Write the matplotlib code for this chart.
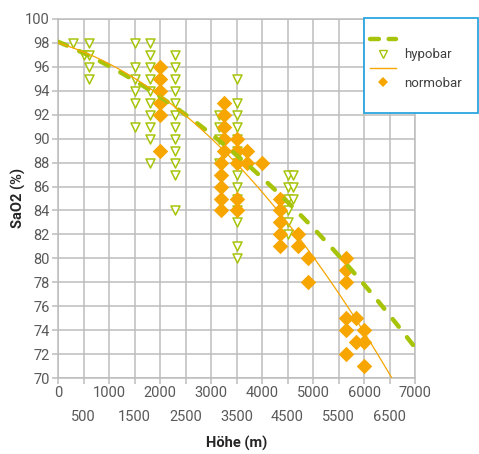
import numpy as np
import matplotlib.pyplot as plt
from matplotlib.lines import Line2D
from matplotlib.patches import Rectangle

plt.rcParams['font.family'] = ['Roboto', 'DejaVu Sans']

# hypobar measurements (altitude in m, SaO2 in %)
hypo_alt = [300, 500,
            600, 600, 600, 600,
            1500, 1500, 1500, 1500, 1500, 1500,
            1800, 1800, 1800, 1800, 1800, 1800, 1800, 1800, 1800, 1800,
            2300, 2300, 2300, 2300, 2300, 2300, 2300, 2300, 2300, 2300, 2300, 2300,
            3150, 3150, 3150, 3150,
            3500, 3500, 3500, 3500, 3500, 3500, 3500, 3500, 3500, 3500, 3500, 3500, 3500, 3500,
            4500, 4500, 4500, 4500, 4500, 4500,
            4600, 4600, 4600]
hypo_sao2 = [98, 97,
             98, 97, 96, 95,
             98, 96, 95, 94, 93, 91,
             98, 97, 96, 95, 94, 93, 92, 91, 90, 88,
             97, 96, 95, 94, 93, 92, 91, 90, 89, 88, 87, 84,
             92, 91, 90, 88,
             95, 93, 92, 91, 90, 89, 88, 87, 86, 85, 84, 83, 81, 80,
             87, 86, 85, 84, 83, 82,
             87, 86, 85]

# normobar measurements
norm_alt = [2000, 2000, 2000, 2000, 2000, 2000,
            3250, 3250, 3250, 3250, 3250,
            3200, 3200, 3200, 3200, 3200,
            3500, 3500, 3500, 3500, 3500,
            3700, 3700, 4000,
            4350, 4350, 4350, 4350, 4350,
            4700, 4700, 4900, 4900,
            5650, 5650, 5650, 5650, 5650, 5650,
            5850, 5850,
            6000, 6000, 6000]
norm_sao2 = [96, 95, 94, 93, 92, 89,
             93, 92, 91, 90, 89,
             88, 87, 86, 85, 84,
             90, 89, 88, 85, 84,
             89, 88, 88,
             85, 84, 83, 82, 81,
             82, 81, 80, 78,
             80, 79, 78, 75, 74, 72,
             75, 73,
             74, 73, 71]

# order-2 trend lines as shown in the chart (x^2, x, const)
hypo_trend = [-2.7e-7, -1.76e-3, 98.1]
norm_trend = [-4.58e-7, -1.28e-3, 98.0]

green = '#a8c40a'
orange = '#f7a600'
grid_col = '#bdbdbd'
text_col = '#595959'

fig = plt.figure(figsize=(4.79, 4.54), dpi=100)
ax = fig.add_axes([58/479, 1 - 378/454, (415 - 58)/479, (378 - 19)/454])

xs = np.linspace(0, 7000, 300)

ax.scatter(hypo_alt, hypo_sao2, marker='v', s=42, facecolors='white',
           edgecolors=green, linewidths=1.1, zorder=3)
ax.scatter(norm_alt, norm_sao2, marker='D', s=62, color=orange,
           linewidths=0, zorder=4)
ax.plot(xs, np.polyval(hypo_trend, xs), color=green, lw=3.2,
        dashes=(2.2, 3.0), dash_capstyle='round', zorder=5)
ax.plot(xs, np.polyval(norm_trend, xs), color=orange, lw=0.9, zorder=5)

ax.set_xlim(0, 7000)
ax.set_ylim(70, 100)
major = np.arange(0, 7001, 1000)
minor = np.arange(500, 7000, 1000)
ax.set_xticks(major)
ax.set_xticklabels([str(v) for v in major])
ax.set_xticks(minor, minor=True)
ax.set_xticklabels([str(v) for v in minor], minor=True)
ax.set_yticks(np.arange(70, 101, 2))
ax.grid(True, which='both', axis='x', color=grid_col, lw=1.1)
ax.grid(True, axis='y', color=grid_col, lw=1.1)
ax.set_axisbelow(True)
for sp in ax.spines.values():
    sp.set_color(grid_col)
    sp.set_linewidth(1.1)
ax.tick_params(which='both', colors=grid_col, labelcolor=text_col,
               labelsize=10.5, length=4, width=1.1)
ax.tick_params(axis='x', which='major', pad=2)
ax.tick_params(axis='x', which='minor', pad=19)
ax.tick_params(axis='y', pad=2)

ax.set_xlabel('Höhe (m)', fontsize=10.5, fontweight='bold', color='#262626',
              labelpad=9)
ax.set_ylabel('SaO2 (%)', fontsize=10.5, fontweight='bold', color='#262626',
              labelpad=-1)

# legend frame
fig.patches.append(Rectangle((364/479, 1 - 113/454), 114/479, 95/454,
                             transform=fig.transFigure, facecolor='white',
                             edgecolor='#2aa6e0', lw=1.3, zorder=10))

handles = [Line2D([], [], color=green, lw=3.2, dashes=(2.0, 2.2),
                  dash_capstyle='round'),
           Line2D([], [], ls='none', marker='v', ms=6, mfc='white', mec=green,
                  mew=1.0),
           Line2D([], [], color=orange, lw=1.0),
           Line2D([], [], ls='none', marker='D', ms=5.5, color=orange, mew=0)]
labels = ['', 'hypobar', '', 'normobar']
leg = fig.legend(handles, labels, loc='upper left',
                 bbox_to_anchor=(370/479, 1 - 34/454),
                 frameon=False, borderaxespad=0, borderpad=0,
                 fontsize=9.5, handlelength=2.0, handletextpad=0.55,
                 labelspacing=0.1)
leg.set_zorder(11)
for t in leg.get_texts():
    t.set_color('#404040')

fig.savefig('out.png', dpi=100)
